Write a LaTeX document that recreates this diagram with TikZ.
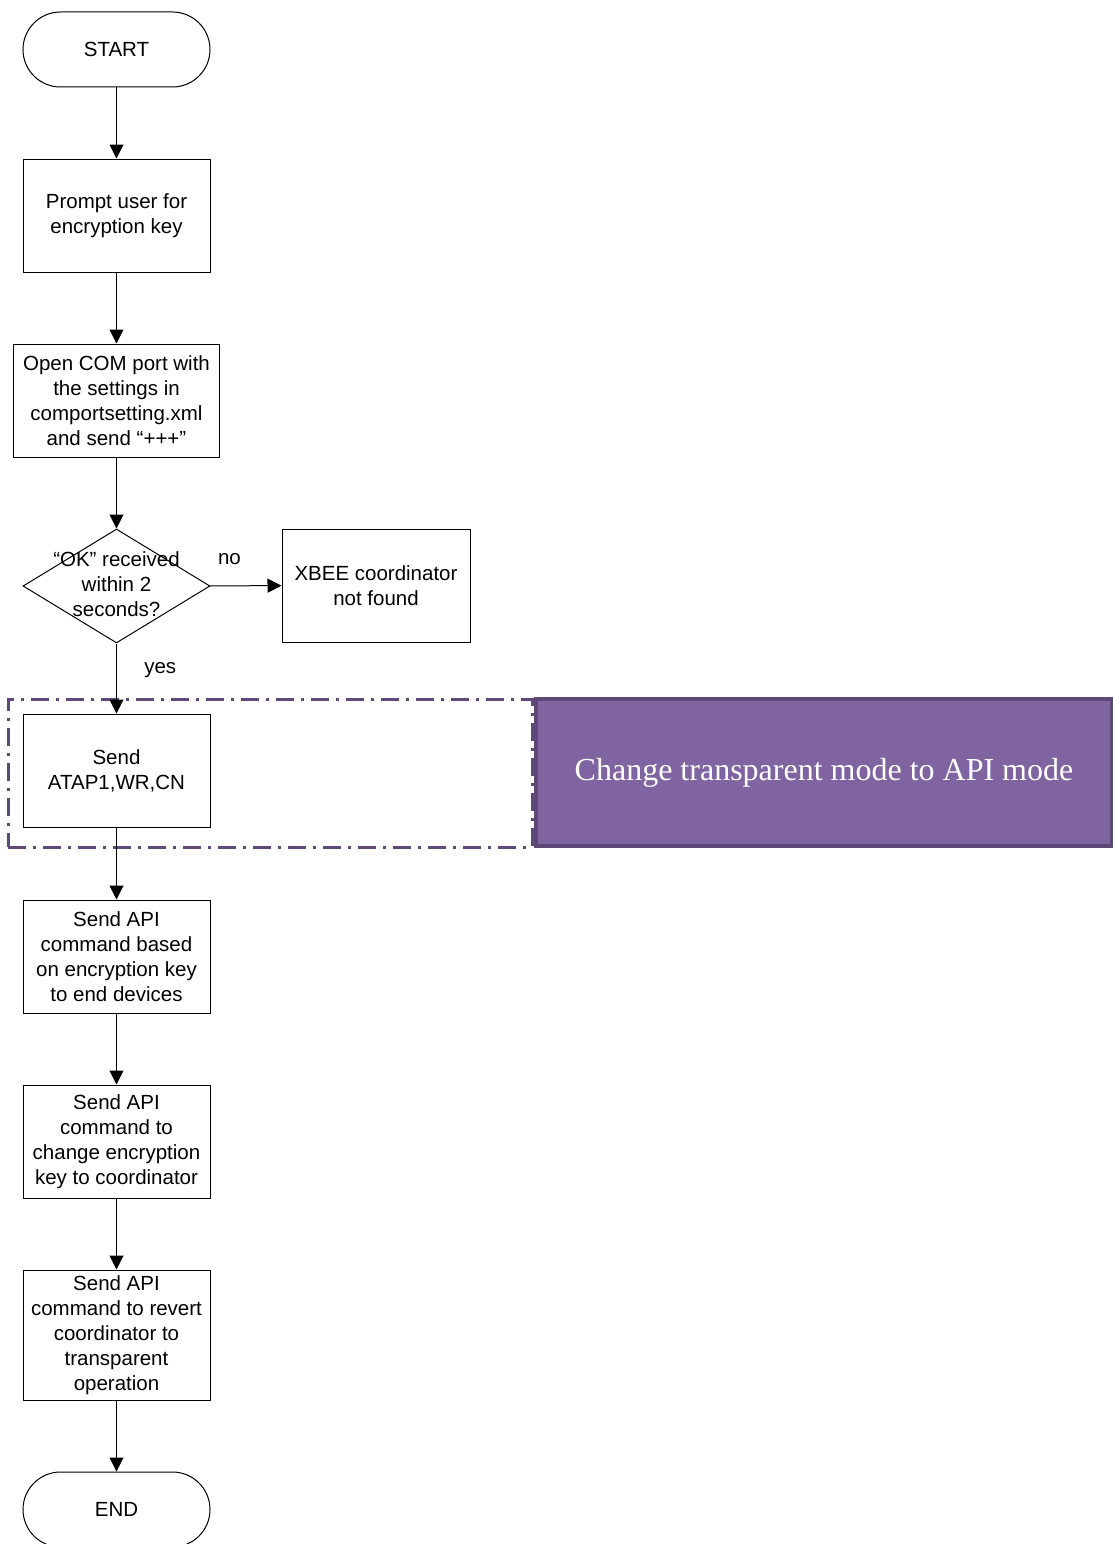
\documentclass[tikz,border=0pt]{standalone}
\usepackage{fontspec}
\setmainfont{Liberation Sans}
\newfontfamily\notefont{Liberation Serif}
\usetikzlibrary{arrows.meta,shapes.geometric}
\definecolor{apifill}{HTML}{8064A2}
\definecolor{apiedge}{HTML}{5C4776}
\definecolor{apidash}{HTML}{5F497A}

\begin{document}
\begin{tikzpicture}[x=1pt,y=-1pt,
    >={Triangle[length=14pt,width=14pt]},
    every node/.style={font=\fontsize{20.5}{25}\selectfont, align=center},
    terminal/.style={draw, line width=1pt, rounded corners=37.5pt, minimum width=187pt, minimum height=75pt},
    process/.style={draw, line width=1pt, minimum width=187pt, minimum height=113pt, inner sep=0pt},
    decision/.style={draw, diamond, line width=1pt, minimum width=187pt, minimum height=114pt, inner sep=0pt},
    region/.style={draw=apidash, line width=3pt, dash pattern=on 18pt off 7pt on 3pt off 7pt, minimum width=524pt, minimum height=148pt},
    banner/.style={draw=apiedge, fill=apifill, line width=4pt, text=white, minimum width=576pt, minimum height=147pt, font=\notefont\fontsize{32}{38}\selectfont}]
        \useasboundingbox (0,0) rectangle (1112,1544);

        % group that switches the coordinator to API mode
        \path
        (270,773) node[region](apiregion) {}
        (824,772.5) node[banner](apinote) {Change transparent mode to API mode}
        ;

        \path
        (116.5,49.5) node[terminal](start) {START}
        (116.5,215.5) node[process](prompt) {Prompt user for\\encryption key}
        (116.5,400.5) node[process,minimum width=206pt](openport) {Open COM port with\\the settings in\\comportsetting.xml\\and send “+++”}
        (116.5,586) node[decision](check) {}
        (116.5,584) node(checktext) {“OK” received\\within 2\\seconds?}
        (376,585.5) node[process,minimum width=188pt](notfound) {XBEE coordinator\\not found}
        (116.5,770.5) node[process](atap) {Send\\ATAP1,WR,CN}
        (116.5,956.5) node[process](sendkey) {Send API\\command based\\on encryption key\\to end devices}
        (116.5,1141.5) node[process](changekey) {Send API\\command to\\change encryption\\key to coordinator}
        (116.5,1335) node[process,minimum height=130pt](revert) {Send API\\command to revert\\coordinator to\\transparent\\operation}
        (116.5,1509.5) node[terminal](finish) {END}
        ;

        \draw[->,line width=1pt] (start) -- (prompt);
        \draw[->,line width=1pt] (prompt) -- (openport);
        \draw[->,line width=1pt] (openport) -- (check);
        \draw[->,line width=1pt] (check) -- node[pos=0.27,above=17pt](nolbl) {no} (notfound);
        \draw[->,line width=1pt] (check) -- node[pos=0.38,right=24pt](yeslbl) {yes} (atap);
        \draw[->,line width=1pt] (atap) -- (sendkey);
        \draw[->,line width=1pt] (sendkey) -- (changekey);
        \draw[->,line width=1pt] (changekey) -- (revert);
        \draw[->,line width=1pt] (revert) -- (finish);
      \end{tikzpicture}
\end{document}
